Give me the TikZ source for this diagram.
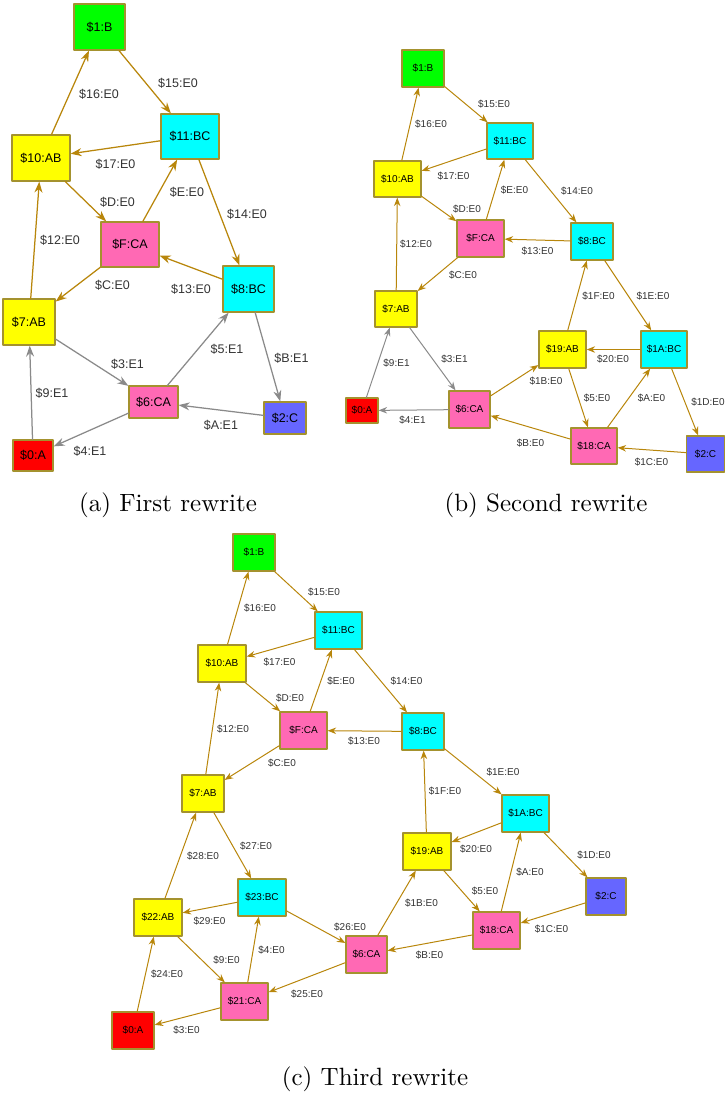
\documentclass[tikz,border=0pt]{standalone}
\usepackage{fontspec}
\setsansfont{Liberation Sans}
\usetikzlibrary{arrows.meta}
\definecolor{stA}{HTML}{FF0000}
\definecolor{stB}{HTML}{00FF00}
\definecolor{stC}{HTML}{6666FF}
\definecolor{stAB}{HTML}{FFFF00}
\definecolor{stBC}{HTML}{00FFFF}
\definecolor{stCA}{HTML}{FF69B4}
\definecolor{stateborder}{HTML}{A4922E}
\definecolor{linkgold}{HTML}{B8860B}
\definecolor{linkgray}{HTML}{8A8A8A}
\definecolor{labelink}{HTML}{333333}

\begin{document}
\begin{tikzpicture}[
  x=0.4pt,
  y=-0.4pt,
  line cap=round,
  line join=round,
  state/.style={
    rectangle,
    draw=stateborder,
    line width=0.5pt,
    inner sep=0pt,
    text=black
  },
  boxsize/.style 2 args={
    minimum width=#1*0.4pt,
    minimum height=#2*0.4pt
  },
  link/.style={
    draw=linkgold,
    line width=0.4pt,
    -{Stealth[length=3.4pt,width=2.6pt]}
  },
  lbl/.style={
    text=labelink,
    inner sep=0pt
  }
]
\useasboundingbox (0,0) rectangle (725,1095);

% ------------------------------------------------------------
% (a) First rewrite
% ------------------------------------------------------------
\begin{scope}[
  font=\sffamily\fontsize{5}{6}\selectfont,
  link/.append style={
    line width=0.5pt,
    -{Stealth[length=4.4pt,width=3.2pt]}
  }
]
\foreach \i/\k/\x/\y/\w/\h in {
  1/B/99.5/27/51/46, 11/BC/190/136.5/58/45, 10/AB/41/158/58/46,
  F/CA/130/244.5/58/45, 8/BC/248.5/289/51/46, 7/AB/29/322/52/46,
  6/CA/153.5/402/49/32, 2/C/285/418/42/32, 0/A/33/455.5/40/31}{
  \node[state,fill=st\k,boxsize={\w}{\h}] (a\i\k) at (\x,\y) {\$\i:\k};
}

\foreach \s/\t/\l/\lx/\ly in {
  10AB/1B/16:E0/99/94, 1B/11BC/15:E0/178/83,
  11BC/10AB/17:E0/115.5/164, 10AB/FCA/D:E0/117.5/202,
  FCA/11BC/E:E0/187/192, 11BC/8BC/14:E0/247/214,
  7AB/10AB/12:E0/60/240, FCA/7AB/C:E0/112.5/285.5,
  8BC/FCA/13:E0/191/289}{
  \draw[link] (a\s) -- (a\t);
  \node[lbl] (a\s-\t) at (\lx,\ly) {\$\l};
}

% gray edges: the E1 rewrites
\foreach \s/\t/\l/\lx/\ly in {
  7AB/6CA/3:E1/127.5/364, 6CA/8BC/5:E1/227/349.5,
  8BC/2C/B:E1/291.5/358, 0A/7AB/9:E1/52/393.5,
  2C/6CA/A:E1/221/425.5, 6CA/0A/4:E1/90/451.5}{
  \draw[link,draw=linkgray] (a\s) -- (a\t);
  \node[lbl] (a\s-\t) at (\lx,\ly) {\$\l};
}
\end{scope}

\node (capa) at (168,505) {(a) First rewrite};

% ------------------------------------------------------------
% (b) Second rewrite
% ------------------------------------------------------------
\begin{scope}[font=\sffamily\fontsize{4}{5}\selectfont]
\foreach \i/\k/\x/\y/\w/\h in {
  1/B/423/68.5/42/37, 11/BC/510/141/46/36, 10/AB/397.5/179/47/36,
  F/CA/480.5/238.5/47/37, 8/BC/592/241.5/42/37, 7/AB/396/309/42/36,
  19/AB/562.5/349.5/47/37, 1A/BC/664/349.5/46/37, 0/A/362/410.5/32/25,
  6/CA/469.5/409.5/41/37, 18/CA/594/446/46/36, 2/C/705.5/454/38/36}{
  \node[state,fill=st\k,boxsize={\w}{\h}] (b\i\k) at (\x,\y) {\$\i:\k};
}

\foreach \s/\t/\l/\lx/\ly in {
  10AB/1B/16:E0/431/124.5, 1B/11BC/15:E0/494/104.5,
  11BC/10AB/17:E0/453.5/176.5, 10AB/FCA/D:E0/467/209.5,
  FCA/11BC/E:E0/514.5/190.5, 11BC/8BC/14:E0/577/191.5,
  7AB/10AB/12:E0/416/244.5, 8BC/FCA/13:E0/537.5/251.5,
  FCA/7AB/C:E0/463/275.5, 6CA/19AB/1B:E0/546/381.5,
  19AB/8BC/1F:E0/598.5/296.5, 8BC/1ABC/1E:E0/653/296.5,
  1ABC/19AB/20:E0/613/359.5, 19AB/18CA/5:E0/597/398.5,
  18CA/1ABC/A:E0/651.5/398.5, 1ABC/2C/1D:E0/708/402.5,
  18CA/6CA/B:E0/530.5/443, 2C/18CA/1C:E0/651.5/462}{
  \draw[link] (b\s) -- (b\t);
  \node[lbl] (b\s-\t) at (\lx,\ly) {\$\l};
}

\foreach \s/\t/\l/\lx/\ly in {
  0A/7AB/9:E1/396.5/363.5, 7AB/6CA/3:E1/454.5/359.5,
  6CA/0A/4:E1/412.5/420.5}{
  \draw[link,draw=linkgray] (b\s) -- (b\t);
  \node[lbl] (b\s-\t) at (\lx,\ly) {\$\l};
}
\end{scope}

\node (capb) at (546,505) {(b) Second rewrite};

% ------------------------------------------------------------
% (c) Third rewrite
% ------------------------------------------------------------
\begin{scope}[font=\sffamily\fontsize{4}{5}\selectfont]
\foreach \i/\k/\x/\y/\w/\h in {
  1/B/254/552.5/42/37, 11/BC/338.5/630.5/47/37, 10/AB/222/663.5/48/37,
  F/CA/303.5/730.5/47/37, 8/BC/423/731.5/42/37, 1A/BC/525.5/813.5/47/37,
  19/AB/427/851.5/48/37, 2/C/606/896.5/40/37, 18/CA/496.5/930.5/47/37,
  7/AB/203/793.5/42/37, 23/BC/262/897.5/48/37, 22/AB/158/917.5/48/37,
  6/CA/366.5/954.5/41/37, 21/CA/244.5/1001.5/47/37, 0/A/133/1030.5/42/37}{
  \node[state,fill=st\k,boxsize={\w}{\h}] (c\i\k) at (\x,\y) {\$\i:\k};
}

\foreach \s/\t/\l/\lx/\ly in {
  10AB/1B/16:E0/260/608.5, 1B/11BC/15:E0/324/592.5,
  11BC/10AB/17:E0/279.5/662.5, 10AB/FCA/D:E0/290/698.5,
  FCA/11BC/E:E0/341/681.5, 11BC/8BC/14:E0/406.5/681.5,
  7AB/10AB/12:E0/233/729.5, 8BC/FCA/13:E0/364/741.5,
  FCA/7AB/C:E0/282/763.5, 8BC/1ABC/1E:E0/503/772.5,
  19AB/8BC/1F:E0/445/791.5, 1ABC/19AB/20:E0/476/849.5,
  1ABC/2C/1D:E0/594/855.5, 18CA/1ABC/A:E0/530/872.5,
  19AB/18CA/5:E0/485/891.5, 6CA/19AB/1B:E0/421.5/903.5,
  2C/18CA/1C:E0/551.5/929.5, 18CA/6CA/B:E0/429.5/955,
  23BC/6CA/26:E0/350/927.5, 7AB/23BC/27:E0/256/846.5,
  22AB/7AB/28:E0/203/856.5, 23BC/22AB/29:E0/209.5/921.5,
  22AB/21CA/9:E0/226.5/960.5, 21CA/23BC/4:E0/271.5/950.5,
  0A/22AB/24:E0/167/974.5, 6CA/21CA/25:E0/307/994.5,
  21CA/0A/3:E0/186.5/1030.5}{
  \draw[link] (c\s) -- (c\t);
  \node[lbl] (c\s-\t) at (\lx,\ly) {\$\l};
}
\end{scope}

\node (capc) at (375,1079) {(c) Third rewrite};
\end{tikzpicture}
\end{document}
